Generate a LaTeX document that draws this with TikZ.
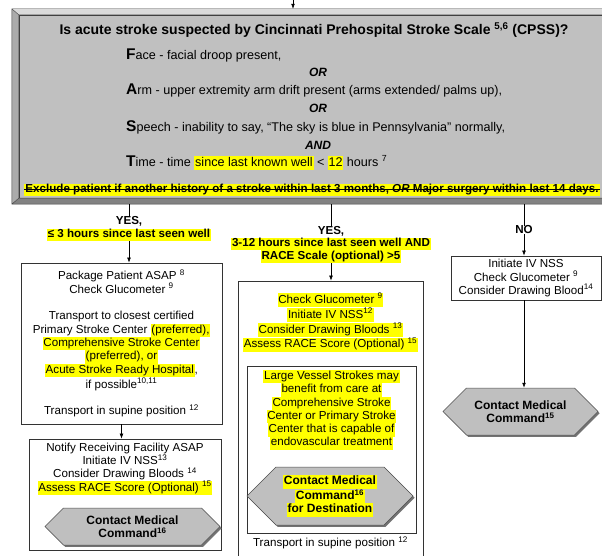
\documentclass[tikz,border=0pt]{standalone}
\usepackage{fontspec}
\setmainfont{Liberation Sans}
\usepackage{xcolor}
\definecolor{hlyellow}{HTML}{FFFF00}
\definecolor{panelgray}{HTML}{C0C0C0}
\definecolor{bevellight}{HTML}{DADADA}
\definecolor{bevelmid}{HTML}{ABABAB}
\definecolor{beveldark}{HTML}{828282}
\definecolor{hexgray}{HTML}{BFBFBF}
\usepackage{tikz}
\usetikzlibrary{positioning,shapes.symbols,shadows,arrows.meta}

\newcommand{\hl}[1]{{\setlength{\fboxsep}{0pt}\colorbox{hlyellow}{\hspace{0.7pt}\strut#1\hspace{0.7pt}}}}
\newcommand{\initial}[1]{{\fontsize{15.5}{15.5}\selectfont\bfseries #1}}

\begin{document}
\begin{tikzpicture}[
  x=1pt, y=-1pt,
  every node/.style={font=\fontsize{11.6}{13.3}\selectfont, inner sep=0pt},
  box/.style={draw=black!80, line width=0.7pt, fill=white, align=center},
  txt/.style={align=center},
  lbl/.style={font=\fontsize{11.6}{12.4}\selectfont\bfseries, align=center},
  crit/.style={anchor=west, font=\fontsize{12.6}{14}\selectfont},
  conj/.style={font=\fontsize{12}{13}\selectfont\bfseries\itshape},
  hexa/.style={signal, signal to=east and west, draw=black!70, fill=hexgray,
               line width=0.5pt, align=center,
               font=\fontsize{12}{13.4}\selectfont\bfseries,
               drop shadow={shadow xshift=1.6pt, shadow yshift=-1.8pt,
                            fill=black!55, opacity=1}},
  arr/.style={-{Latex[length=5pt,width=3.8pt]}, line width=0.6pt},
  link/.style={line width=0.6pt}
]
  \useasboundingbox (0,0) rectangle (602,556);
  \clip (0,0) rectangle (602,556);

  \node[draw=black!75, fill=panelgray, minimum width=586pt, minimum height=183pt] (Q) at (312,106.5) {};
  \coordinate (qnw) at ([shift={(-7,-6)}]Q.north west);
  \coordinate (qne) at ([shift={(7,-6)}]Q.north east);
  \coordinate (qsw) at ([shift={(-7,6)}]Q.south west);
  \coordinate (qse) at ([shift={(7,6)}]Q.south east);
  \fill[bevellight] (qnw) -- (qne) -- (Q.north east) -- (Q.north west) -- cycle;
  \fill[bevelmid] (qnw) -- (Q.north west) -- (Q.south west) -- (qsw) -- cycle;
  \fill[beveldark] (qsw) -- (Q.south west) -- (Q.south east) -- (qse) -- cycle;
  \fill[beveldark!80!black] (qne) -- (Q.north east) -- (Q.south east) -- (qse) -- cycle;
  \draw[black!75] (qnw) rectangle (qse) (Q.north west) rectangle (Q.south east)
    (qnw) -- (Q.north west) (qne) -- (Q.north east) (qsw) -- (Q.south west) (qse) -- (Q.south east);

  \node[font=\fontsize{14}{16}\selectfont\bfseries] (ttl) at (314,30)
    {Is acute stroke suspected by Cincinnati Prehospital Stroke Scale \textsuperscript{5,6} (CPSS)?};
  \node[crit] (F) at (126,55) {\initial{F}ace - facial droop present,};
  \node[conj] (or1) at (318,72) {OR};
  \node[crit] (A) at (126,90) {\initial{A}rm - upper extremity arm drift present (arms extended/ palms up),};
  \node[conj] (or2) at (318,108) {OR};
  \node[crit] (S) at (126,127) {\initial{S}peech - inability to say, “The sky is blue in Pennsylvania” normally,};
  \node[conj] (and) at (318,145) {AND};
  \node[crit] (T) at (126,163) {\initial{T}ime - time \hl{since last known well} < \hl{12} hours \textsuperscript{7}};
  \node[lbl, fill=hlyellow, inner sep=1pt] (ex) at (312,190)
    {Exclude patient if another history of a stroke within last 3 months, \textit{OR} Major surgery within last 14 days.};
  \draw[line width=0.7pt] ([yshift=3.2pt]ex.base west) -- ([yshift=3.2pt]ex.base east);

  \coordinate (top) at (293,0);
  \coordinate (qt) at ([yshift=6pt]Q.north);
  \coordinate (qb) at ([yshift=-6pt]Q.south);
  \draw[arr] (top) -- (top |- qt);

  % yes, early window
  \node[lbl] (Y1) at (129,229) {YES,\\ \hl{≤ 3 hours since last seen well}};
  \node[box, minimum width=201pt, minimum height=161pt] (L1) at (121.5,343.5)
    {Package Patient ASAP \textsuperscript{8}\\
     Check Glucometer \textsuperscript{9}\\[13.3pt]
     Transport to closest certified\\
     Primary Stroke Center \hl{(preferred),}\\
     \hl{Comprehensive Stroke Center}\\
     \hl{(preferred), or}\\
     \hl{Acute Stroke Ready Hospital},\\
     if possible\textsuperscript{10,11}\\[13.3pt]
     Transport in supine position \textsuperscript{12}};
  \node[box, minimum width=192pt, minimum height=111pt] (L2) at (125,494.5) {};
  \node[txt] (L2t) at (125,469)
    {Notify Receiving Facility ASAP\\
     Initiate IV NSS\textsuperscript{13}\\
     Consider Drawing Bloods \textsuperscript{14}\\
     \hl{Assess RACE Score (Optional) \textsuperscript{15}}};
  \node[hexa, minimum width=175pt, minimum height=37pt] (H1) at (132.5,526.5)
    {Contact Medical\\ Command\textsuperscript{16}};

  % yes, late window
  \node[lbl] (Y2) at (331,244.5)
    {YES,\\ \hl{3-12 hours since last seen well AND}\\ \hl{RACE Scale (optional) >5}};
  \node[box, minimum width=185pt, minimum height=289pt] (M1) at (330.5,425.5) {};
  \node[txt] (M1t) at (330.5,322.5)
    {\hl{Check Glucometer \textsuperscript{9}}\\
     \hl{Initiate IV NSS\textsuperscript{12}}\\
     \hl{Consider Drawing Bloods \textsuperscript{13}}\\
     \hl{Assess RACE Score (Optional) \textsuperscript{15}}};
  \node[box, minimum width=169pt, minimum height=167pt] (M2) at (331.5,449.5) {};
  \node[txt] (M2t) at (331.5,410)
    {\hl{Large Vessel Strokes may}\\
     \hl{benefit from care at}\\
     \hl{Comprehensive Stroke}\\
     \hl{Center or Primary Stroke}\\
     \hl{Center that is capable of}\\
     \hl{endovascular treatment}};
  \node[hexa, minimum width=166pt, minimum height=58pt] (H2) at (330,496)
    {\hl{Contact Medical}\\ \hl{Command\textsuperscript{16}}\\ \hl{for Destination}};
  \node[txt] (M1s) at (330.5,543) {Transport in supine position \textsuperscript{12}};

  % no
  \node[lbl] (N) at (524,230) {NO};
  \node[box, minimum width=150pt, minimum height=44pt] (R1) at (526,278)
    {Initiate IV NSS\\ Check Glucometer \textsuperscript{9}\\ Consider Drawing Blood\textsuperscript{14}};
  \node[hexa, minimum width=155pt, minimum height=47pt] (H3) at (520.5,411.5)
    {Contact Medical\\ Command\textsuperscript{15}};

  \draw[link] (qb -| Y1.north) -- (Y1.north);
  \draw[arr] (Y1.south) -- (Y1.south |- L1.north);
  \draw[arr] (L1.south) -- (L1.south |- L2.north);
  \draw[link] (qb -| Y2.north) -- (Y2.north);
  \draw[arr] (Y2.south) -- (Y2.south |- M1.north);
  \draw[link] (qb -| N.north) -- (N.north);
  \draw[arr] (N.south) -- (N.south |- R1.north);
  \draw[arr] (N |- R1.south) -- (N |- H3.north);
\end{tikzpicture}
\end{document}
